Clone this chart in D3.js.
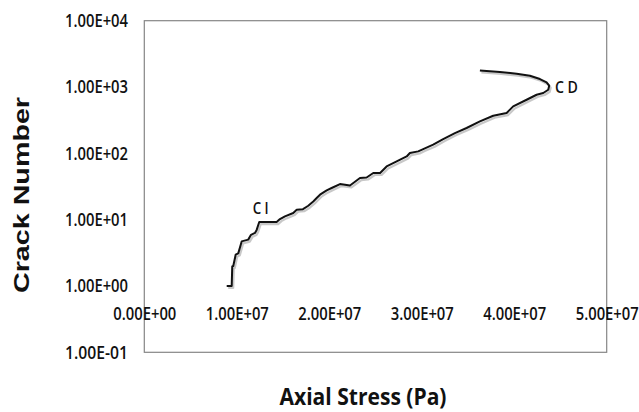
<!DOCTYPE html>
<html>
<head>
<meta charset="utf-8">
<script src="https://cdn.jsdelivr.net/npm/d3@7"></script>
<style>
  body { margin: 0; background: #fff; }
  svg { display: block; }
</style>
</head>
<body>
<svg id="main-svg" width="639" height="412"></svg>
<script>
// axial stress (Pa) and crack count
var stress = [0.891e7, 0.945e7, 0.951e7, 0.962e7, 0.988e7, 1.016e7, 1.053e7, 1.124e7, 1.154e7, 1.197e7,
  1.215e7, 1.243e7, 1.431e7, 1.467e7, 1.521e7, 1.611e7, 1.648e7, 1.716e7, 1.773e7, 1.827e7,
  1.864e7, 1.9e7, 1.972e7, 2.026e7, 2.116e7, 2.224e7, 2.332e7, 2.404e7, 2.476e7, 2.55e7,
  2.62e7, 2.729e7, 2.837e7, 2.872e7, 2.962e7, 3.016e7, 3.124e7, 3.232e7, 3.359e7, 3.485e7,
  3.629e7, 3.773e7, 3.918e7, 3.989e7, 4.134e7, 4.242e7, 4.314e7, 4.368e7, 4.378e7, 4.35e7,
  4.278e7, 4.17e7, 4.026e7, 3.845e7, 3.629e7]
var cracks = [1, 1, 1.97, 2, 2.96, 3.1, 4.7, 5, 5.9, 6.3,
  7, 9.2, 9.2, 10.2, 11.2, 12.6, 14.1, 14.4, 16.2, 18.8,
  21.2, 23.8, 27.6, 30, 34.4, 32.8, 42.4, 43.2, 50.5, 50.5,
  63.4, 75.4, 89.8, 101, 107, 116, 135, 164, 202, 241,
  303, 369, 405, 510, 643, 765, 812, 910, 1047, 1174,
  1320, 1480, 1590, 1683, 1780]
var xTicks = [0, 1e7, 2e7, 3e7, 4e7, 5e7]
var yTicks = [0.1, 1, 10, 100, 1000, 10000]
var notes = [{text: 'C I', x: 1.172e7, y: 12.1, w: 16}, {text: 'C D', x: 4.44e7, y: 800, w: 23}]

var svg = d3.select('#main-svg')
var plotL = 144.3, plotR = 606.7, plotT = 20.7, plotB = 352.3

var x = d3.scaleLinear().domain([0, 5e7]).range([plotL, plotR])
var y = d3.scaleLog().domain([0.1, 1e4]).range([plotB, plotT])

// Excel style number labels, ie. 1.00E+04
function sci(v) {
  var parts = v.toExponential(2).split('e')
  var ex = parts[1]
  return parts[0] + 'E' + ex[0] + ex.slice(1).padStart(2, '0')
}

svg.append('rect')
  .attr('x', plotL).attr('y', plotT)
  .attr('width', plotR - plotL).attr('height', plotB - plotT)
  .attr('fill', 'none')
  .attr('stroke', '#868686')
  .attr('stroke-width', 1.2)

var yAxis = svg.append('g')
  .attr('transform', 'translate(' + 128 + ',0)')
  .call(d3.axisLeft(y).tickValues(yTicks).tickFormat(sci).tickSize(0).tickPadding(0))
yAxis.select('.domain').remove()

var xAxis = svg.append('g')
  .attr('transform', 'translate(0,' + (y(1) + 21) + ')')
  .call(d3.axisBottom(x).tickValues(xTicks).tickFormat(sci).tickSize(0).tickPadding(0))
xAxis.select('.domain').remove()

svg.selectAll('.tick text')
  .attr('fill', '#111')
  .style('font-family', '"Open Sans", sans-serif')
  .style('font-weight', 600)
  .style('font-size', '18px')
  .attr('textLength', 63)
  .attr('lengthAdjust', 'spacingAndGlyphs')

var line = d3.line()
  .x(function(d) { return x(d[0]) })
  .y(function(d) { return y(d[1]) })
var pts = d3.zip(stress, cracks)

// soft drop shadow like the spreadsheet line
svg.append('path')
  .datum(pts)
  .attr('d', line)
  .attr('transform', 'translate(1.5,2)')
  .attr('fill', 'none')
  .attr('stroke', '#9a9a9a')
  .attr('stroke-opacity', 0.55)
  .attr('stroke-width', 2.2)
  .attr('stroke-linejoin', 'round')

svg.append('path')
  .datum(pts)
  .attr('d', line)
  .attr('fill', 'none')
  .attr('stroke', '#111')
  .attr('stroke-width', 2)
  .attr('stroke-linejoin', 'round')

svg.selectAll('.note')
  .data(notes)
  .enter().append('text')
  .attr('class', 'note')
  .attr('x', function(d) { return x(d.x) })
  .attr('y', function(d) { return y(d.y) })
  .attr('fill', '#111')
  .style('font-family', '"Open Sans", sans-serif')
  .style('font-weight', 600)
  .style('font-size', '17px')
  .attr('textLength', function(d) { return d.w })
  .attr('lengthAdjust', 'spacingAndGlyphs')
  .text(function(d) { return d.text })

svg.append('text')
  .attr('x', 363)
  .attr('y', 405)
  .attr('text-anchor', 'middle')
  .attr('fill', '#111')
  .style('font-family', '"Open Sans", sans-serif')
  .style('font-weight', 700)
  .style('font-size', '23px')
  .attr('textLength', 167)
  .attr('lengthAdjust', 'spacingAndGlyphs')
  .text('Axial Stress (Pa)')

svg.append('text')
  .attr('transform', 'translate(29,195) rotate(-90)')
  .attr('text-anchor', 'middle')
  .attr('fill', '#111')
  .style('font-family', '"Liberation Sans", Arial, sans-serif')
  .style('font-weight', 700)
  .style('font-size', '22px')
  .attr('textLength', 196)
  .attr('lengthAdjust', 'spacingAndGlyphs')
  .text('Crack Number')
</script>
</body>
</html>
